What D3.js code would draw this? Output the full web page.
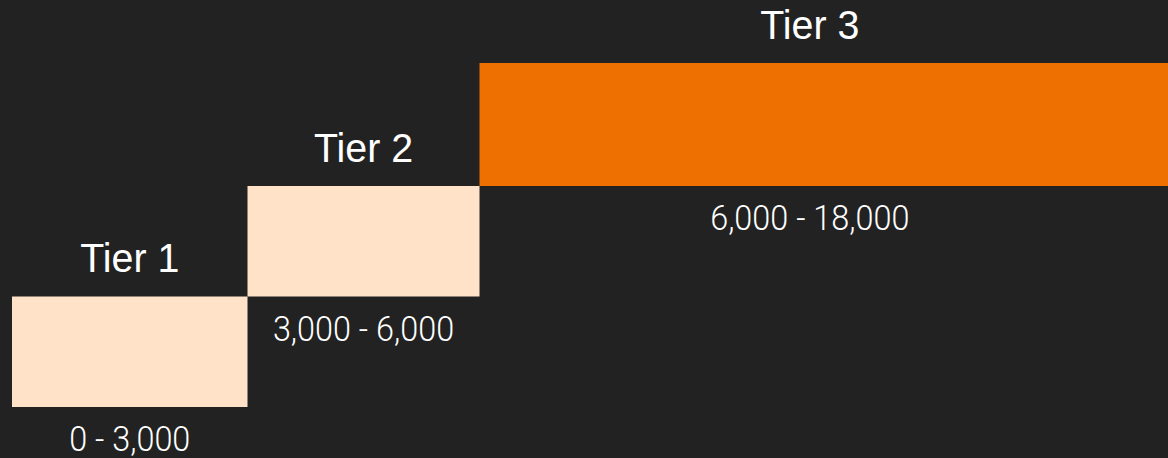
<!DOCTYPE html>
<html>
<head>
<meta charset="utf-8">
<script src="https://cdn.jsdelivr.net/npm/d3@7"></script>
<style>
  html, body { margin: 0; padding: 0; background: #222222; overflow: hidden; }
  svg { display: block; }
</style>
</head>
<body>
<script>
// tier data
var tiers = ["Tier 1", "Tier 2", "Tier 3"];
var tierStart = [0, 3000, 6000];
var tierEnd = [3000, 6000, 18000];
var tierLevel = [0, 1, 2];
var tierColor = ["#ffe2c8", "#ffe2c8", "#ee7000"];

var width = 1168;
var height = 458;

var svg = d3.select("body").append("svg")
    .attr("width", width)
    .attr("height", height);

svg.append("rect")
    .attr("width", width)
    .attr("height", height)
    .attr("fill", "#222222");

// piecewise scale: each tier gets its own step, the last one is open ended
var x = d3.scaleLinear()
    .domain([0, 3000, 6000, 18000])
    .range([12, 247.5, 479.5, 1140]);

var y = d3.scaleLinear()
    .domain([0, 1, 2, 3])
    .range([407, 296.5, 186, 63]);

var fmt = d3.format(",");

var data = tiers.map(function (t, i) {
    return {name: t, start: tierStart[i], end: tierEnd[i], level: tierLevel[i], color: tierColor[i], last: i === tiers.length - 1};
});

svg.selectAll(".step").data(data)
    .enter().append("rect")
    .classed("step", true)
    .attr("x", function (d) { return x(d.start); })
    .attr("y", function (d) { return y(d.level + 1); })
    .attr("width", function (d) {
        return d.last ? width - x(d.start) : x(d.end) - x(d.start);
    })
    .attr("height", function (d) { return y(d.level) - y(d.level + 1); })
    .attr("fill", function (d) { return d.color; });

//tier names above each step
svg.selectAll(".name").data(data)
    .enter().append("text")
    .classed("name", true)
    .attr("transform", function (d) {
        return "translate(" + ((x(d.start) + x(d.end)) / 2) + "," + (y(d.level + 1) - 24.5) + ") scale(0.96,1)";
    })
    .attr("text-anchor", "middle")
    .style("font-family", "'Liberation Sans', Arial, sans-serif")
    .style("font-size", "41px")
    .attr("fill", "#ffffff")
    .text(function (d) { return d.name; });

//range labels below each step
svg.selectAll(".range").data(data)
    .enter().append("text")
    .classed("range", true)
    .attr("transform", function (d) {
        return "translate(" + ((x(d.start) + x(d.end)) / 2) + "," + (y(d.level) + 44) + ") scale(0.9,1)";
    })
    .attr("text-anchor", "middle")
    .style("font-family", "Roboto, sans-serif")
    .style("font-weight", "300")
    .style("font-size", "36px")
    .attr("fill", "#ffffff")
    .text(function (d) { return fmt(d.start) + " - " + fmt(d.end); });
</script>
</body>
</html>
